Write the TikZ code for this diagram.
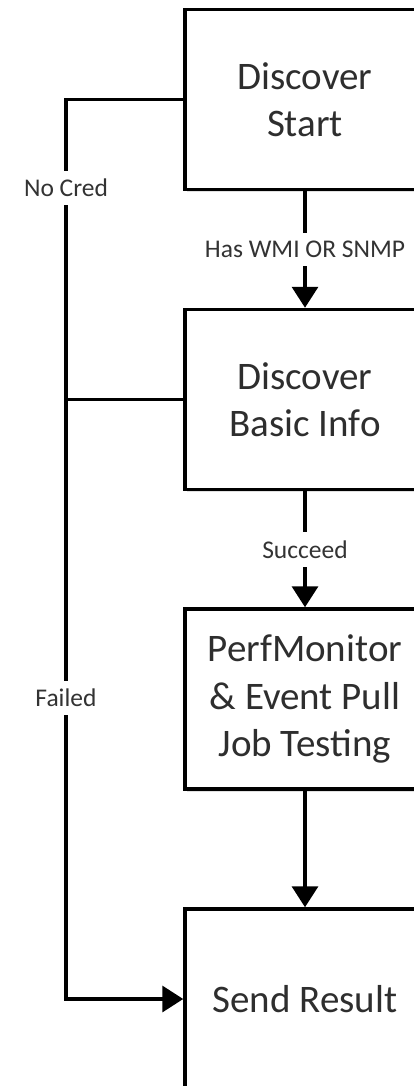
\documentclass[tikz,border=0pt]{standalone}
\usepackage{fontspec}
\setmainfont{Carlito}
\usetikzlibrary{arrows.meta,shadows}

\begin{document}
\begin{tikzpicture}[x=1pt,y=-1pt,
  stepbox/.style={draw=black, line width=3.5pt, fill=white,
    minimum width=240pt, minimum height=180pt, inner sep=0pt,
    align=center, text=black!82,
    font=\fontsize{39}{47.5}\selectfont,
    drop shadow={shadow xshift=1.5pt, shadow yshift=-2.5pt, fill=black, opacity=0.12}},
  flow/.style={draw=black, line width=3.5pt},
  tip/.style={-{Triangle[width=26pt,length=21pt]}},
  lab/.style={fill=white, text=black!80, inner xsep=1pt, inner ysep=8.5pt,
    font=\fontsize{25.5}{30}\selectfont}
]
\useasboundingbox (0,0) rectangle (414,1086);
\clip (0,0) rectangle (414,1086);

% process steps
\node[stepbox] (start) at (305,99.5) {Discover\\Start};
\node[stepbox] (basic) at (305,399.5) {Discover\\Basic Info};
\node[stepbox] (perf)  at (305,699)   {PerfMonitor\\\& Event Pull\\Job Testing};
\node[stepbox] (send)  at (305,999)   {Send Result};

% main flow
\draw[flow,tip] (start.south) -- node[lab]{Has WMI OR SNMP} (basic.north);
\draw[flow,tip] (basic.south) -- node[lab]{Succeed} (perf.north);
\draw[flow,tip] (perf.south) -- (send.north);

% failure rail on the left
\coordinate (railtop) at (66,99.5);
\coordinate (railbot) at (66,999);
\draw[flow,tip,line join=miter] (start.west) -- (railtop) -- (railbot) -- (send.west);
\draw[flow] (basic.west) -- (basic.west -| railtop);

\node[lab] (nocred) at (66,188) {No Cred};
\node[lab] (failed) at (66,698) {Failed};
\end{tikzpicture}
\end{document}
